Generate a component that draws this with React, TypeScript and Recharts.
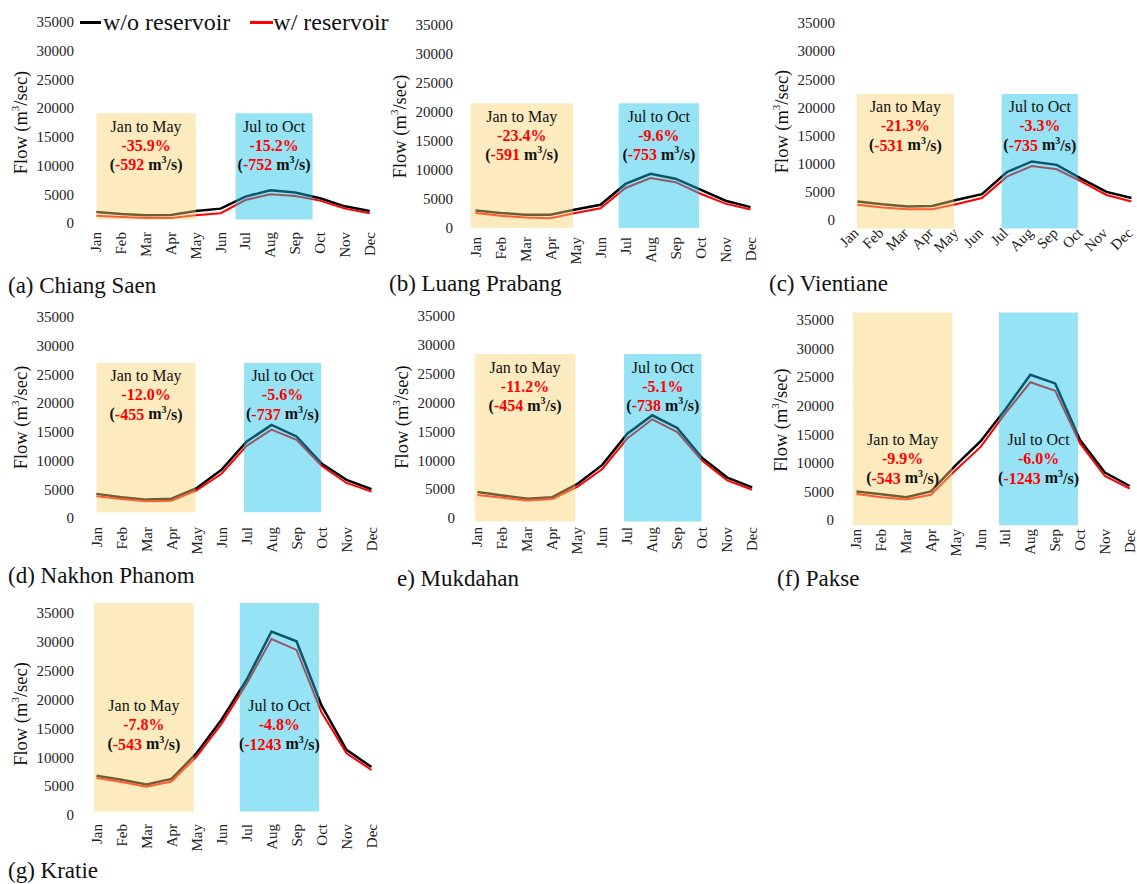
import React from "react";
import { ComposedChart, Line, XAxis, YAxis, ReferenceArea } from "recharts";

const FONT = "'Liberation Serif', 'Times New Roman', serif";

const MONTHS = ["Jan", "Feb", "Mar", "Apr", "May", "Jun", "Jul", "Aug", "Sep", "Oct", "Nov", "Dec"];
const MONTH_IDX = [0, 1, 2, 3, 4, 5, 6, 7, 8, 9, 10, 11];
const Y_TICKS = [0, 5000, 10000, 15000, 20000, 25000, 30000, 35000];

// monthly mean flow (m3/s)
const chiangSaenWithout = [1900, 1560, 1330, 1400, 2100, 2500, 4600, 5700, 5300, 4300, 2900, 2100];
const chiangSaenWith = [1270, 1040, 870, 870, 1330, 1700, 4000, 5000, 4700, 3900, 2500, 1700];
const luangPrabangWithout = [3000, 2600, 2300, 2300, 3200, 4000, 7600, 9350, 8500, 6600, 4700, 3600];
const luangPrabangWith = [2600, 2100, 1800, 1700, 2600, 3400, 6900, 8600, 7900, 5900, 4200, 3200];
const vientianeWithout = [3300, 2800, 2400, 2500, 3600, 4600, 8500, 10400, 9800, 7300, 5000, 3900];
const vientianeWith = [2700, 2200, 1900, 1900, 2850, 3900, 7700, 9600, 9000, 6800, 4450, 3300];
const nakhonPhanomWithout = [4200, 3600, 3200, 3350, 5200, 8400, 13300, 16200, 14200, 9500, 6650, 5000];
const nakhonPhanomWith = [3800, 3300, 2900, 3000, 4800, 7700, 12550, 15400, 13600, 9100, 6100, 4600];
const mukdahanWithout = [4500, 3900, 3350, 3600, 5900, 9200, 14600, 17800, 15600, 10400, 7000, 5300];
const mukdahanWith = [4000, 3500, 3050, 3300, 5400, 8500, 13800, 17100, 14900, 9900, 6500, 4900];
const pakseWithout = [5000, 4500, 4000, 5000, 9600, 13800, 19400, 25400, 23900, 14000, 8300, 5950];
const pakseWith = [4550, 4000, 3600, 4400, 8750, 12800, 18700, 24100, 22600, 13400, 7700, 5500];
const kratieWithout = [6800, 6100, 5300, 6250, 10700, 16500, 23400, 31800, 30100, 19000, 11300, 8300];
const kratieWith = [6400, 5700, 4900, 5800, 10100, 15800, 22700, 30500, 28600, 17800, 10700, 7800];

// seasonal change labels
const dryPct = ["-35.9%", "-23.4%", "-21.3%", "-12.0%", "-11.2%", "-9.9%", "-7.8%"];
const dryAbs = ["-592", "-591", "-531", "-455", "-454", "-543", "-543"];
const wetPct = ["-15.2%", "-9.6%", "-3.3%", "-5.6%", "-5.1%", "-6.0%", "-4.8%"];
const wetAbs = ["-752", "-753", "-735", "-737", "-738", "-1243", "-1243"];

type Box = [number, number, number, number]; // x1, x2, y1, y2

type PanelCfg = {
  title: string;
  titleX: number;
  titleY: number;
  top: number; // px of 35000
  bottom: number; // px of 0
  jan: number;
  dec: number;
  angle: number;
  without: number[];
  withRes: number[];
  dryBox: Box;
  wetBox: Box;
  textOffset: number;
};

const panels: PanelCfg[] = [
  { title: "(a) Chiang Saen", titleX: 8, titleY: 285, top: 22, bottom: 223, jan: 96.7, dec: 370, angle: -90,
    without: chiangSaenWithout, withRes: chiangSaenWith, dryBox: [0, 4, 600, 19100], wetBox: [5.6, 8.7, 600, 19100], textOffset: 13 },
  { title: "(b) Luang Prabang", titleX: 389, titleY: 283, top: 25, bottom: 228, jan: 475, dec: 750, angle: -90,
    without: luangPrabangWithout, withRes: luangPrabangWith, dryBox: [-0.2, 3.9, 0, 21500], wetBox: [5.73, 8.94, 0, 21500], textOffset: 13 },
  { title: "(c) Vientiane", titleX: 769, titleY: 283, top: 23, bottom: 220, jan: 857, dec: 1131, angle: -45,
    without: vientianeWithout, withRes: vientianeWith, dryBox: [-0.03, 3.88, -1500, 22400], wetBox: [5.79, 8.85, -1500, 22400], textOffset: 13 },
  { title: "(d) Nakhon Phanom", titleX: 8, titleY: 575, top: 317, bottom: 518, jan: 96.7, dec: 371.7, angle: -90,
    without: nakhonPhanomWithout, withRes: nakhonPhanomWith, dryBox: [0, 3.96, 1000, 27000], wetBox: [5.9, 8.98, 1000, 27000], textOffset: 13 },
  { title: "e) Mukdahan", titleX: 397, titleY: 578, top: 316, bottom: 518, jan: 477, dec: 751.7, angle: -90,
    without: mukdahanWithout, withRes: mukdahanWith, dryBox: [-0.11, 3.92, -600, 28400], wetBox: [5.87, 8.97, -600, 28400], textOffset: 13 },
  { title: "(f) Pakse", titleX: 777, titleY: 578, top: 320, bottom: 520, jan: 856.7, dec: 1130, angle: -90,
    without: pakseWithout, withRes: pakseWith, dryBox: [-0.14, 3.86, -900, 36300], wetBox: [5.74, 8.92, -900, 36300], textOffset: 127 },
  { title: "(g) Kratie", titleX: 8, titleY: 870, top: 613, bottom: 815, jan: 96.7, dec: 371.7, angle: -90,
    without: kratieWithout, withRes: kratieWith, dryBox: [-0.1, 3.89, 600, 37600], wetBox: [5.73, 8.9, 600, 37600], textOffset: 108 },
];

const MonthTick = ({ x, y, payload, angle }: any) => (
  <g transform={`translate(${x},${y})`}>
    <text transform={`rotate(${angle})`} x={angle === -90 ? 0 : -2} textAnchor="end" dominantBaseline="central" fontSize={15} fontFamily={FONT} fill="#222">
      {MONTHS[payload.value]}
    </text>
  </g>
);

const FlowLabel = ({ viewBox }: any) => {
  const cx = viewBox.x + viewBox.width - 63;
  const cy = viewBox.y + viewBox.height / 2;
  return (
    <text transform={`rotate(-90, ${cx}, ${cy})`} x={cx} y={cy} textAnchor="middle" dominantBaseline="central" fontSize={18.5} fontFamily={FONT} fill="#111">
      Flow (m<tspan dy={-6} fontSize={11}>3</tspan>
      <tspan dy={6}>/sec)</tspan>
    </text>
  );
};

const BoxText = ({ viewBox, head, pct, abs, offset }: any) => {
  const cx = viewBox.x + viewBox.width / 2;
  const y0 = viewBox.y + offset;
  return (
    <g fontFamily={FONT} fontSize={16} textAnchor="middle">
      <text x={cx} y={y0} dominantBaseline="central" fill="#111">{head}</text>
      <text x={cx} y={y0 + 19} dominantBaseline="central" fill="#ff0000" fontWeight="bold">{pct}</text>
      <text x={cx} y={y0 + 38} dominantBaseline="central" fill="#111" fontWeight="bold">
        (<tspan fill="#ff0000">{abs}</tspan> m<tspan dy={-5} fontSize={10}>3</tspan><tspan dy={5}>/s)</tspan>
      </text>
    </g>
  );
};

function FlowPanel({ p, idx }: { p: PanelCfg; idx: number }) {
  const step = (p.dec - p.jan) / 11;
  const plotLeft = p.jan - step / 2;
  const plotW = step * 12;
  const plotH = p.bottom - p.top;
  const axisW = 80;
  const padTop = 10;
  const axisH = 50;
  const data = MONTH_IDX.map((i) => ({ i, without: p.without[i], withRes: p.withRes[i] }));

  return (
    <>
      <div style={{ position: "absolute", left: plotLeft - axisW, top: p.top - padTop }}>
        <ComposedChart width={axisW + plotW + 2} height={padTop + plotH + axisH} data={data} margin={{ top: padTop, right: 2, bottom: 0, left: 0 }}>
          <XAxis dataKey="i" type="number" domain={[-0.5, 11.5]} ticks={MONTH_IDX} interval={0} axisLine={false} tickLine={false}
            tickSize={0} tickMargin={9} height={axisH} tick={<MonthTick angle={p.angle} />} />
          <YAxis type="number" domain={[0, 35000]} ticks={Y_TICKS} interval={0} width={axisW} axisLine={false} tickLine={false}
            tickSize={0} tickMargin={10} tick={{ fontSize: 15, fill: "#222", fontFamily: FONT }} label={(props: any) => <FlowLabel {...props} />} />
          <Line dataKey="without" type="linear" stroke="#000000" strokeWidth={2.5} dot={false} isAnimationActive={false} />
          <Line dataKey="withRes" type="linear" stroke="#ff0000" strokeWidth={2} dot={false} isAnimationActive={false} />
          <ReferenceArea x1={p.dryBox[0]} x2={p.dryBox[1]} y1={p.dryBox[2]} y2={p.dryBox[3]} ifOverflow="visible" zIndex={450}
            fill="#F9D371" fillOpacity={0.45} stroke="none"
            label={(props: any) => <BoxText {...props} head="Jan to May" pct={dryPct[idx]} abs={dryAbs[idx]} offset={p.textOffset} />} />
          <ReferenceArea x1={p.wetBox[0]} x2={p.wetBox[1]} y1={p.wetBox[2]} y2={p.wetBox[3]} ifOverflow="visible" zIndex={450}
            fill="#14C1E7" fillOpacity={0.45} stroke="none"
            label={(props: any) => <BoxText {...props} head="Jul to Oct" pct={wetPct[idx]} abs={wetAbs[idx]} offset={p.textOffset} />} />
        </ComposedChart>
      </div>
      <div style={{ position: "absolute", left: p.titleX, top: p.titleY, transform: "translateY(-50%)", fontFamily: FONT, fontSize: 23, lineHeight: 1, color: "#111", whiteSpace: "nowrap" }}>
        {p.title}
      </div>
    </>
  );
}

export default function App() {
  return (
    <div style={{ position: "absolute", left: 0, top: 0, width: 1137, height: 884, overflow: "hidden", background: "#fff" }}>
      {panels.map((p, k) => (
        <FlowPanel key={p.title} p={p} idx={k} />
      ))}
      <div style={{ position: "absolute", left: 80, top: 22, transform: "translateY(-50%)", display: "flex", alignItems: "center", fontFamily: FONT, fontSize: 24, lineHeight: 1, color: "#111", whiteSpace: "nowrap" }}>
        <span style={{ display: "inline-block", width: 21, height: 3, background: "#000" }} />
        <span style={{ marginLeft: 2 }}>w/o reservoir</span>
        <span style={{ display: "inline-block", width: 23, height: 3, background: "#ff0000", marginLeft: 20 }} />
        <span>w/ reservoir</span>
      </div>
    </div>
  );
}
